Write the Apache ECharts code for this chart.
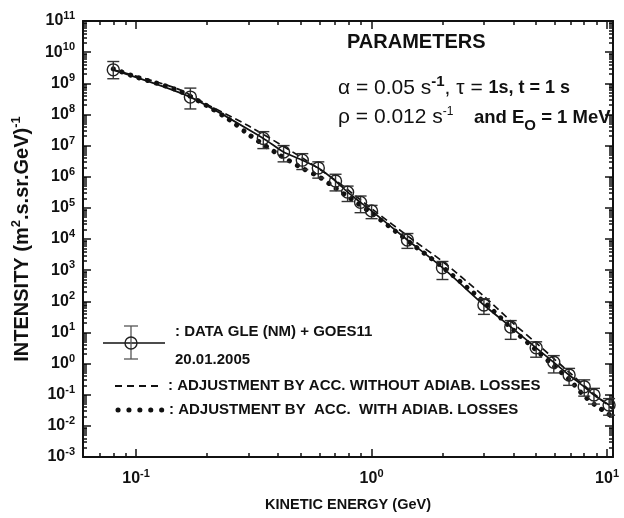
<!DOCTYPE html>
<html>
<head>
<meta charset="utf-8">
<script src="https://cdn.jsdelivr.net/npm/echarts@6/dist/echarts.min.js"></script>
<style>
html, body { margin: 0; padding: 0; background: #fff; }
#main { width: 624px; height: 518px; }
</style>
</head>
<body>
<div id="main"></div>
<script>
// measured points (GLE 20.01.2005), with error bar ends
var energy = [0.080, 0.170, 0.347, 0.423, 0.508, 0.594, 0.703, 0.791, 0.898, 1.0, 1.42, 2.0, 3.0, 3.9, 5.0, 5.94, 6.9, 8.0, 8.8, 10.2];
var intensity = [2.7e9, 3.6e8, 1.7e7, 6.2e6, 3.4e6, 1.9e6, 7.3e5, 3.2e5, 1.5e5, 8e4, 9.3e3, 1.2e3, 76, 15, 3.2, 1.1, 0.43, 0.18, 0.098, 0.047];
var errLow = [1.4e9, 1.5e8, 8e6, 3e6, 1.7e6, 9e5, 3.5e5, 1.6e5, 7e4, 4.5e4, 5e3, 5e2, 38, 6, 1.6, 0.5, 0.2, 0.09, 0.05, 0.022];
var errHigh = [5.0e9, 7.0e8, 2.8e7, 1.0e7, 5.5e6, 3e6, 1.2e6, 5e5, 2.4e5, 1.2e5, 1.5e4, 1.9e3, 120, 24, 5, 1.8, 0.7, 0.3, 0.16, 0.075];

// adjustment without adiabatic losses (dashed)
var noAdiabE = [0.08, 0.1, 0.15, 0.2, 0.3, 0.5, 0.7, 1, 1.5, 2, 3, 4, 5, 6, 7, 8, 9, 10, 10.5];
var noAdiabI = [2.7e9, 1.7e9, 6.6e8, 2.1e8, 4.3e7, 4.3e6, 7.8e5, 9.5e4, 9.3e3, 1.9e3, 145, 19.5, 4.6, 1.35, 0.48, 0.195, 0.093, 0.048, 0.035];

// adjustment with adiabatic losses (dotted)
var adiabE = [0.08, 0.1, 0.15, 0.2, 0.25, 0.3, 0.4, 0.5, 0.6, 0.7, 0.8, 1, 1.5, 2, 3, 4, 5, 6, 7, 8, 9, 10, 10.5];
var adiabI = [2.9e9, 1.6e9, 6.0e8, 1.9e8, 6.6e7, 2.3e7, 5.4e6, 2.0e6, 9.8e5, 4.4e5, 2.2e5, 6.8e4, 6.5e3, 1.26e3, 95, 12, 2.7, 0.78, 0.28, 0.091, 0.044, 0.026, 0.020];

// axis ticks
var xMajor = [0.1, 1, 10];
var yMajor = [1e-3, 1e-2, 1e-1, 1, 1e1, 1e2, 1e3, 1e4, 1e5, 1e6, 1e7, 1e8, 1e9, 1e10, 1e11];
var mantissa = [2, 3, 4, 5, 6, 7, 8, 9];

var xMinor = [0.07, 0.08, 0.09];
[0.1, 1].forEach(function (d) {
    mantissa.forEach(function (m) { xMinor.push(+(d * m).toPrecision(3)); });
});
var yMinor = [];
yMajor.slice(0, -1).forEach(function (d) {
    mantissa.forEach(function (m) { yMinor.push(+(d * m).toPrecision(3)); });
});

var FONT = '"Liberation Sans", Arial, sans-serif';
var INK = '#111';

function powLabel(v) {
    var e = Math.round(Math.log(v) / Math.LN10);
    return '{b|10}{e|' + e + '}';
}
var powRich = {
    b: { fontFamily: FONT, fontSize: 16, fontWeight: 'bold', color: INK },
    e: { fontFamily: FONT, fontSize: 11, fontWeight: 'bold', color: INK, padding: [0, 0, 10, 0] }
};

function xAx(pos, ticks, len, withLabels) {
    return {
        type: 'log', logBase: 10, min: 0.0595, max: 10.6, position: pos,
        axisLine: { show: withLabels, onZero: false, lineStyle: { color: INK, width: 2 } },
        axisTick: { show: true, inside: true, length: len, customValues: ticks, lineStyle: { color: INK, width: 1.5 } },
        axisLabel: withLabels && pos === 'bottom'
            ? { show: true, customValues: xMajor, margin: 11, formatter: powLabel, rich: powRich }
            : { show: false },
        splitLine: { show: false },
        minorTick: { show: false }
    };
}
function yAx(pos, ticks, len, withLabels) {
    return {
        type: 'log', logBase: 10, min: 1e-3, max: 1e11, position: pos,
        axisLine: { show: withLabels, onZero: false, lineStyle: { color: INK, width: 2 } },
        axisTick: { show: true, inside: true, length: len, customValues: ticks, lineStyle: { color: INK, width: 1.5 } },
        axisLabel: withLabels && pos === 'left'
            ? { show: true, customValues: yMajor, margin: 8, formatter: powLabel, rich: powRich }
            : { show: false },
        splitLine: { show: false },
        minorTick: { show: false }
    };
}

var xAxes = [xAx('bottom', xMajor, 8, true), xAx('bottom', xMinor, 4, false), xAx('top', xMajor, 8, true), xAx('top', xMinor, 4, false)];
xAxes[0].name = 'KINETIC ENERGY (GeV)';
xAxes[0].nameLocation = 'middle';
xAxes[0].nameGap = 40;
xAxes[0].nameTextStyle = { fontFamily: FONT, fontSize: 14.5, fontWeight: 'bold', color: INK };

var yAxes = [yAx('left', yMajor, 8, true), yAx('left', yMinor, 4, false), yAx('right', yMajor, 8, true), yAx('right', yMinor, 4, false)];
yAxes[0].name = '{t|INTENSITY (m}{s|2}{t|.s.sr.GeV)}{s|-1}';
yAxes[0].nameLocation = 'middle';
yAxes[0].nameGap = 48;
yAxes[0].nameTextStyle = {
    rich: {
        t: { fontFamily: FONT, fontSize: 20, fontWeight: 'bold', color: INK },
        s: { fontFamily: FONT, fontSize: 13, fontWeight: 'bold', color: INK, padding: [0, 0, 12, 0] }
    }
};

var legendTxt = { fontFamily: FONT, fontSize: 15, fontWeight: 'bold', fill: INK };

var myChart = echarts.init(document.getElementById('main'));

var option = {
    animation: false,
    backgroundColor: '#fff',
    grid: { left: 83, right: 11, top: 21, bottom: 61, containLabel: false, outerBoundsMode: 'none' },
    xAxis: xAxes,
    yAxis: yAxes,
    series: [{
        name: 'errors',
        type: 'custom',
        data: energy.map(function (e, i) { return [e, errLow[i], errHigh[i]]; }),
        encode: { x: 0, y: [1, 2] },
        renderItem: function (params, api) {
            var lo = api.coord([api.value(0), api.value(1)]);
            var hi = api.coord([api.value(0), api.value(2)]);
            var w = 6;
            var st = { stroke: '#333', lineWidth: 1.4 };
            return {
                type: 'group',
                children: [
                    { type: 'line', shape: { x1: lo[0], y1: lo[1], x2: hi[0], y2: hi[1] }, style: st },
                    { type: 'line', shape: { x1: lo[0] - w, y1: lo[1], x2: lo[0] + w, y2: lo[1] }, style: st },
                    { type: 'line', shape: { x1: hi[0] - w, y1: hi[1], x2: hi[0] + w, y2: hi[1] }, style: st }
                ]
            };
        },
        z: 3
    }, {
        name: 'DATA GLE (NM) + GOES11',
        type: 'line',
        data: energy.map(function (e, i) { return [e, intensity[i]]; }),
        smooth: 0.25,
        symbol: 'circle',
        symbolSize: 12,
        itemStyle: { color: 'rgba(0,0,0,0)', borderColor: '#222', borderWidth: 1.4 },
        lineStyle: { color: INK, width: 1.7 },
        z: 4
    }, {
        name: 'WITHOUT ADIAB. LOSSES',
        type: 'line',
        data: noAdiabE.map(function (e, i) { return [e, noAdiabI[i]]; }),
        smooth: 0.3,
        showSymbol: false,
        lineStyle: { color: INK, width: 1.7, type: [7, 4] },
        z: 2
    }, {
        name: 'WITH ADIAB. LOSSES',
        type: 'line',
        data: adiabE.map(function (e, i) { return [e, adiabI[i]]; }),
        smooth: 0.3,
        showSymbol: false,
        lineStyle: { color: INK, width: 5, type: [0.1, 9], cap: 'round' },
        z: 2
    }],
    graphic: [
        { type: 'text', left: 347, top: 32, style: { text: 'PARAMETERS', fontFamily: FONT, fontSize: 20, fontWeight: 'bold', fill: INK } },
        { type: 'text', left: 338, top: 74, style: {
            text: '{n|α = 0.05 s}{sup|-1}{n|, τ = }{b|1s, t = 1 s}',
            rich: {
                n: { fontFamily: FONT, fontSize: 21, fill: INK },
                b: { fontFamily: FONT, fontSize: 18, fontWeight: 'bold', fill: INK },
                sup: { fontFamily: FONT, fontSize: 15, fontWeight: 'bold', fill: INK, padding: [0, 0, 13, 0] }
            }
        } },
        { type: 'text', left: 338, top: 106, style: {
            text: '{n|ρ = 0.012 s}{sup|-1}{b|    and E}{sub|O}{b| = 1 MeV}',
            rich: {
                n: { fontFamily: FONT, fontSize: 21, fill: INK },
                b: { fontFamily: FONT, fontSize: 18.5, fontWeight: 'bold', fill: INK },
                sup: { fontFamily: FONT, fontSize: 12, fill: INK, padding: [0, 0, 11, 0] },
                sub: { fontFamily: FONT, fontSize: 15, fontWeight: 'bold', fill: INK, padding: [16, 0, 0, 0] }
            }
        } },
        // legend: data symbol
        { type: 'line', shape: { x1: 103, y1: 343, x2: 165, y2: 343 }, style: { stroke: INK, lineWidth: 1.7 } },
        { type: 'line', shape: { x1: 131, y1: 326, x2: 131, y2: 359 }, style: { stroke: '#555', lineWidth: 1.3 } },
        { type: 'line', shape: { x1: 124, y1: 326, x2: 138, y2: 326 }, style: { stroke: '#555', lineWidth: 1.3 } },
        { type: 'line', shape: { x1: 124, y1: 359, x2: 138, y2: 359 }, style: { stroke: '#555', lineWidth: 1.3 } },
        { type: 'circle', shape: { cx: 131, cy: 343, r: 6 }, style: { fill: 'none', stroke: '#222', lineWidth: 1.4 } },
        { type: 'text', left: 175, top: 324, style: Object.assign({ text: ': DATA GLE (NM) + GOES11' }, legendTxt) },
        { type: 'text', left: 175, top: 352, style: Object.assign({ text: '20.01.2005' }, legendTxt) },
        // legend: dashed
        { type: 'line', shape: { x1: 115, y1: 386, x2: 163, y2: 386 }, style: { stroke: INK, lineWidth: 2, lineDash: [7, 5] } },
        { type: 'text', left: 168, top: 378, style: Object.assign({ text: ': ADJUSTMENT BY ACC. WITHOUT ADIAB. LOSSES' }, legendTxt) },
        // legend: dotted
        { type: 'line', shape: { x1: 118, y1: 410, x2: 162, y2: 410 }, style: { stroke: INK, lineWidth: 5, lineDash: [0.1, 10.8], lineCap: 'round' } },
        { type: 'text', left: 169, top: 402, style: Object.assign({ text: ': ADJUSTMENT BY  ACC.  WITH ADIAB. LOSSES' }, legendTxt) }
    ]
};

myChart.setOption(option);
</script>
</body>
</html>
